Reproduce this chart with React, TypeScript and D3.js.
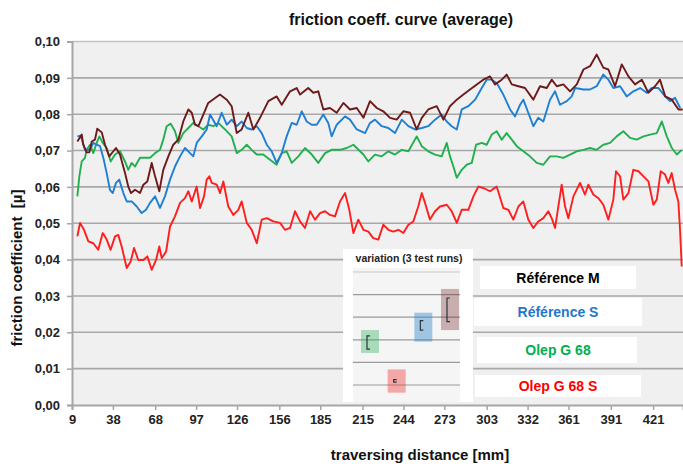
import { useRef, useEffect } from "react";
import * as d3 from "d3";

// tick labels on the category axis (mm)
const xTickLabels = [9, 38, 68, 97, 126, 156, 185, 215, 244, 273, 303, 332, 361, 391, 421];
const yTickValues = [0, 0.01, 0.02, 0.03, 0.04, 0.05, 0.06, 0.07, 0.08, 0.09, 0.1];

// [traversing distance mm, friction coefficient]
const referenceM: [number, number][] = [
  [12.8, 0.0725], [15.9, 0.0744], [17.0, 0.0716], [19.4, 0.0695], [21.3, 0.0695], [23.0, 0.0725],
  [25.3, 0.073], [26.9, 0.076], [30.1, 0.075], [32.4, 0.0716], [35.4, 0.0684], [38.3, 0.0698],
  [40.2, 0.0707], [43.0, 0.0689], [46.6, 0.0638], [48.9, 0.0601], [50.8, 0.0583], [53.7, 0.0592],
  [57.2, 0.0583], [59.6, 0.0606], [62.4, 0.0615], [65.5, 0.0666], [67.9, 0.0629], [70.9, 0.0588],
  [73.7, 0.0647], [77.3, 0.0684], [80.8, 0.0716], [84.4, 0.073], [87.9, 0.078], [91.5, 0.0813],
  [93.9, 0.0804], [96.2, 0.0771], [98.6, 0.0767], [102.1, 0.0799], [105.6, 0.0831], [113.9, 0.0854],
  [118.7, 0.084], [122.2, 0.0822], [125.8, 0.0748], [129.3, 0.0758], [134.0, 0.0804], [137.6, 0.0758],
  [142.3, 0.079], [148.2, 0.0836], [154.1, 0.0849], [157.7, 0.0826], [163.6, 0.0863], [168.3, 0.0872],
  [170.7, 0.0854], [176.5, 0.0872], [180.1, 0.0859], [183.6, 0.0863], [187.2, 0.0813], [191.9, 0.0817],
  [196.7, 0.0804], [201.4, 0.0831], [206.1, 0.0813], [210.9, 0.0817], [215.6, 0.079], [220.3, 0.0836],
  [225.1, 0.0817], [229.7, 0.0808], [234.5, 0.079], [239.2, 0.0785], [243.9, 0.0808], [248.7, 0.0804],
  [253.4, 0.0758], [257.0, 0.079], [261.6, 0.0813], [267.6, 0.0822], [272.3, 0.0785], [277.0, 0.0822],
  [281.8, 0.084], [286.5, 0.0854], [291.2, 0.0868], [296.0, 0.0882], [300.6, 0.0895], [305.4, 0.0904],
  [308.9, 0.0882], [313.7, 0.0895], [317.2, 0.0909], [320.8, 0.0882], [325.5, 0.0877], [330.2, 0.0872],
  [336.1, 0.084], [340.8, 0.0877], [345.6, 0.0872], [349.1, 0.0895], [352.7, 0.0877], [357.4, 0.0882],
  [362.1, 0.0863], [366.9, 0.0882], [371.6, 0.0923], [376.3, 0.0932], [381.0, 0.0964], [385.7, 0.0928],
  [389.3, 0.0923], [394.0, 0.0877], [398.8, 0.0937], [403.5, 0.0904], [408.2, 0.0882], [413.0, 0.0895],
  [417.6, 0.0859], [422.4, 0.0877], [425.9, 0.0895], [429.6, 0.0849], [434.2, 0.084], [439.0, 0.0813],
  [442.0, 0.0813],
];

const referenceS: [number, number][] = [
  [12.8, 0.0739], [15.2, 0.0741], [18.2, 0.0702], [21.8, 0.0702], [24.1, 0.0721], [26.5, 0.0716],
  [28.9, 0.0712], [31.2, 0.068], [33.6, 0.0638], [35.9, 0.0592], [37.9, 0.0583], [40.2, 0.0611],
  [42.5, 0.062], [45.4, 0.0583], [47.8, 0.056], [51.3, 0.056], [54.9, 0.0546], [58.4, 0.0528],
  [61.5, 0.0537], [64.3, 0.0556], [67.9, 0.0574], [71.4, 0.0542], [74.9, 0.0574], [78.5, 0.062],
  [82.0, 0.0656], [85.6, 0.0684], [89.1, 0.0707], [92.7, 0.0693], [95.0, 0.0684], [97.4, 0.0721],
  [101.0, 0.0739], [104.5, 0.0758], [106.9, 0.0799], [111.6, 0.0767], [115.1, 0.0804], [118.7, 0.0771],
  [122.2, 0.0785], [125.8, 0.0767], [129.3, 0.078], [132.9, 0.0762], [136.4, 0.0758], [140.0, 0.0767],
  [143.5, 0.0748], [147.1, 0.0716], [150.6, 0.0698], [154.1, 0.0666], [157.7, 0.0693], [161.2, 0.0739],
  [164.8, 0.0776], [168.3, 0.0771], [171.9, 0.0808], [175.4, 0.078], [179.0, 0.0771], [182.5, 0.0771],
  [187.2, 0.0799], [190.7, 0.0776], [193.1, 0.0739], [196.7, 0.0771], [202.6, 0.0794], [206.1, 0.0785],
  [210.9, 0.0758], [216.8, 0.0748], [220.3, 0.0776], [223.8, 0.0785], [228.6, 0.0767], [233.3, 0.0762],
  [238.0, 0.0748], [242.8, 0.0785], [247.5, 0.0767], [252.2, 0.0758], [257.0, 0.0762], [261.6, 0.0767],
  [266.4, 0.0785], [271.1, 0.0799], [274.7, 0.078], [278.2, 0.0767], [281.8, 0.0758], [285.3, 0.0813],
  [290.0, 0.0822], [294.8, 0.084], [299.5, 0.0872], [303.0, 0.0895], [306.6, 0.0895], [310.1, 0.0886],
  [314.8, 0.0854], [319.6, 0.0813], [323.1, 0.0794], [326.7, 0.0826], [329.0, 0.084], [332.5, 0.0804],
  [336.1, 0.0767], [339.6, 0.079], [343.2, 0.078], [347.9, 0.084], [351.5, 0.0863], [355.0, 0.0826],
  [359.8, 0.0836], [363.3, 0.0849], [365.7, 0.0872], [371.6, 0.0868], [376.3, 0.0868], [381.0, 0.0877],
  [385.7, 0.0909], [389.3, 0.0895], [392.8, 0.0872], [397.6, 0.0877], [402.3, 0.0849], [407.0, 0.0863],
  [411.8, 0.0872], [416.5, 0.0859], [420.0, 0.0872], [424.8, 0.0872], [429.5, 0.0849], [433.0, 0.0836],
  [436.6, 0.0845], [440.2, 0.0817],
];

const olepG68: [number, number][] = [
  [12.8, 0.0574], [14.2, 0.0629], [15.9, 0.067], [18.2, 0.068], [19.4, 0.0702], [21.8, 0.0716],
  [24.1, 0.0693], [26.5, 0.0721], [28.4, 0.0739], [30.8, 0.0721], [33.6, 0.0707], [36.4, 0.067],
  [39.5, 0.0689], [43.0, 0.0698], [46.6, 0.067], [48.9, 0.0647], [51.3, 0.0666], [53.7, 0.0656],
  [57.2, 0.068], [60.8, 0.068], [64.3, 0.068], [67.9, 0.0693], [71.4, 0.0702], [73.7, 0.073],
  [76.1, 0.0767], [79.0, 0.0774], [82.0, 0.0753], [84.4, 0.0721], [87.9, 0.0748], [91.5, 0.0762],
  [95.0, 0.0776], [98.6, 0.0767], [102.1, 0.0758], [105.6, 0.0771], [109.2, 0.0767], [112.7, 0.0776],
  [117.5, 0.0758], [122.2, 0.0739], [125.8, 0.0693], [129.3, 0.0702], [132.9, 0.0716], [136.4, 0.0702],
  [140.0, 0.0689], [144.6, 0.0689], [149.4, 0.0675], [154.1, 0.0661], [157.7, 0.0693], [161.2, 0.0698],
  [164.8, 0.0666], [169.5, 0.0684], [174.2, 0.0707], [179.0, 0.0689], [183.6, 0.0666], [188.4, 0.0693],
  [193.1, 0.0702], [199.0, 0.0702], [203.8, 0.0707], [208.5, 0.0716], [213.2, 0.0698], [215.6, 0.0689],
  [219.1, 0.067], [223.8, 0.0689], [228.6, 0.0684], [233.3, 0.0698], [238.0, 0.0689], [242.8, 0.0702],
  [247.5, 0.0698], [253.4, 0.0739], [257.0, 0.0712], [261.6, 0.0698], [266.4, 0.0689], [271.1, 0.0684],
  [274.7, 0.0721], [277.0, 0.0684], [279.4, 0.0656], [281.8, 0.0625], [285.3, 0.0647], [288.9, 0.0661],
  [292.4, 0.0666], [295.5, 0.0716], [299.5, 0.0721], [303.0, 0.0716], [306.6, 0.0744], [310.1, 0.0753],
  [313.7, 0.073], [317.2, 0.0748], [320.8, 0.073], [324.3, 0.0712], [329.0, 0.0698], [333.7, 0.0684],
  [338.5, 0.0666], [343.2, 0.0661], [347.9, 0.0684], [352.7, 0.0684], [357.4, 0.068], [362.1, 0.0689],
  [366.9, 0.0698], [371.6, 0.0702], [376.3, 0.0707], [381.0, 0.0702], [385.7, 0.0716], [390.5, 0.0721],
  [395.2, 0.0739], [399.9, 0.0753], [404.7, 0.0735], [409.4, 0.073], [414.2, 0.0739], [418.9, 0.0744],
  [423.6, 0.0748], [427.2, 0.078], [430.7, 0.0739], [434.3, 0.0707], [437.8, 0.0689], [441.4, 0.0702],
];

const olepG68S: [number, number][] = [
  [12.8, 0.0464], [14.7, 0.0501], [17.5, 0.0482], [20.6, 0.045], [24.1, 0.0445], [27.6, 0.0427],
  [30.8, 0.0473], [33.6, 0.0455], [36.4, 0.0427], [39.5, 0.0464], [41.8, 0.0468], [44.2, 0.0436],
  [47.8, 0.0377], [50.6, 0.0395], [53.0, 0.0432], [56.0, 0.0399], [59.6, 0.0399], [62.4, 0.0409],
  [65.5, 0.0372], [68.6, 0.0399], [70.9, 0.0436], [72.6, 0.0404], [75.7, 0.0422], [78.5, 0.0491],
  [82.0, 0.0519], [85.6, 0.0556], [89.1, 0.0569], [91.5, 0.0588], [93.9, 0.056], [97.4, 0.0601],
  [99.8, 0.0542], [102.6, 0.0574], [104.5, 0.062], [106.4, 0.0629], [108.1, 0.0611], [111.6, 0.0606],
  [114.0, 0.0583], [116.3, 0.0615], [119.8, 0.0546], [123.4, 0.0523], [126.9, 0.0537], [129.3, 0.056],
  [132.9, 0.0501], [136.4, 0.0482], [140.0, 0.0445], [143.5, 0.051], [147.1, 0.0514], [151.7, 0.0505],
  [156.5, 0.0501], [160.0, 0.0482], [163.6, 0.0487], [167.1, 0.0533], [170.7, 0.0505], [174.2, 0.0487],
  [177.8, 0.0533], [181.3, 0.051], [184.9, 0.0528], [188.4, 0.0533], [191.9, 0.0523], [195.5, 0.0519],
  [199.0, 0.056], [202.6, 0.0583], [205.6, 0.0537], [208.5, 0.0473], [212.0, 0.051], [215.6, 0.0482],
  [219.1, 0.0477], [222.6, 0.0459], [226.2, 0.0455], [229.7, 0.0496], [233.3, 0.0482], [236.8, 0.0477],
  [240.4, 0.0482], [243.9, 0.0473], [247.5, 0.0496], [251.0, 0.0505], [254.5, 0.0546], [257.0, 0.0583],
  [259.3, 0.0556], [262.8, 0.051], [266.4, 0.0533], [269.9, 0.0546], [274.7, 0.0551], [278.2, 0.0533],
  [281.8, 0.0501], [285.3, 0.0537], [290.0, 0.0537], [293.6, 0.0574], [297.1, 0.0601], [300.6, 0.0597],
  [305.4, 0.0588], [310.1, 0.0601], [314.8, 0.0542], [318.4, 0.0537], [321.9, 0.051], [325.5, 0.0546],
  [329.0, 0.056], [332.5, 0.051], [336.1, 0.0487], [339.6, 0.0505], [343.2, 0.0514], [346.7, 0.0533],
  [349.1, 0.0514], [351.5, 0.0487], [353.8, 0.0546], [356.2, 0.0606], [358.6, 0.0546], [360.9, 0.0514],
  [364.5, 0.0574], [369.2, 0.0611], [372.7, 0.0579], [375.1, 0.0606], [378.6, 0.0579], [382.2, 0.0569],
  [385.7, 0.0551], [389.3, 0.051], [392.8, 0.0565], [394.7, 0.0643], [397.6, 0.0629], [399.9, 0.0565],
  [403.5, 0.0583], [407.0, 0.0647], [410.6, 0.0643], [414.2, 0.0629], [417.7, 0.0615], [421.2, 0.0551],
  [423.6, 0.0565], [426.4, 0.0643], [429.5, 0.0634], [431.8, 0.0611], [434.2, 0.0638], [436.6, 0.0592],
  [438.9, 0.056], [440.1, 0.0482], [441.3, 0.0381],
];

const seriesData = [olepG68S, olepG68, referenceS, referenceM];
const seriesColors = ["#ff1e1e", "#21b04e", "#1f7fd2", "#6e1a1a"];

// inset: variation of the 3 test runs
const insetNames = ["Olep G 68", "Olep G 68 S", "Référence S", "Référence M"];
const insetBoxLow = [0.0642, 0.0466, 0.0692, 0.0743];
const insetBoxHigh = [0.0743, 0.0569, 0.082, 0.0925];
const insetErrLow = [0.0659, 0.0513, 0.0743, 0.078];
const insetErrHigh = [0.0717, 0.0524, 0.0785, 0.0885];
const insetGrid = [0.05, 0.06, 0.07, 0.08, 0.09, 0.1];
const insetBoxColors = ["rgba(40,175,90,0.38)", "rgba(240,60,60,0.42)", "rgba(40,130,200,0.42)", "rgba(110,30,30,0.33)"];

const legendLabels = ["Référence M", "Référence S", "Olep G 68", "Olep G 68 S"];
const legendColors = ["#000000", "#1f78c8", "#00b050", "#ff0000"];

export default function App() {
  const ref = useRef<SVGSVGElement>(null);
  const width = 683;
  const height = 464;
  const marginTop = 41.5;
  const marginLeft = 72;
  const plotBottom = 405;
  const plotRight = 683;

  useEffect(() => {
    const svg = d3.select(ref.current);
    svg.selectAll("*").remove();
    const font = "'Liberation Sans', Arial, sans-serif";

    const xScale = d3.scaleLinear().domain([9, 442.2]).range([marginLeft, plotRight]);
    const yScale = d3.scaleLinear().domain([0, 0.1]).range([plotBottom, marginTop]);

    svg.append("rect").attr("width", width).attr("height", height).attr("fill", "#fff");

    svg.append("text")
      .attr("x", 401).attr("y", 25)
      .attr("text-anchor", "middle")
      .attr("font-family", font).attr("font-weight", "bold").attr("font-size", 16)
      .attr("fill", "#111")
      .text("friction coeff. curve (average)");

    svg.append("rect")
      .attr("x", marginLeft).attr("y", marginTop)
      .attr("width", plotRight - marginLeft).attr("height", plotBottom - marginTop)
      .attr("fill", "#f0f0f0");

    // gridlines
    svg.append("g").selectAll("line")
      .data(yTickValues.slice(1))
      .join("line")
      .attr("x1", marginLeft).attr("x2", plotRight)
      .attr("y1", (d) => yScale(d)).attr("y2", (d) => yScale(d))
      .attr("stroke", (d) => (d === 0.1 ? "#c4c4c4" : "#a8a8a8"))
      .attr("stroke-width", 1.6);

    const yAxis = d3.axisLeft(yScale)
      .tickValues(yTickValues)
      .tickSize(5)
      .tickFormat((d) => d3.format(".2f")(d as number).replace(".", ","));
    const yg = svg.append("g").attr("transform", `translate(${marginLeft},0)`).call(yAxis);
    yg.select(".domain").attr("stroke", "#a6a6a6").attr("stroke-width", 2);
    yg.selectAll(".tick line").attr("stroke", "#a6a6a6").attr("stroke-width", 1.5);
    yg.selectAll(".tick text")
      .attr("font-family", font).attr("font-weight", "bold").attr("font-size", 13)
      .attr("fill", "#222").attr("x", -12);

    const xAxis = d3.axisBottom(xScale).tickValues(xTickLabels).tickSize(5).tickFormat((d) => String(d));
    const xg = svg.append("g").attr("transform", `translate(0,${plotBottom})`).call(xAxis);
    xg.select(".domain").attr("stroke", "#a6a6a6").attr("stroke-width", 2);
    xg.selectAll(".tick line").attr("stroke", "#a6a6a6").attr("stroke-width", 1.5);
    xg.selectAll(".tick text")
      .attr("font-family", font).attr("font-weight", "bold").attr("font-size", 13)
      .attr("fill", "#222").attr("y", 10);

    // series
    const line = d3.line<[number, number]>()
      .x((d) => xScale(d[0]))
      .y((d) => yScale(d[1]));
    svg.append("defs").append("clipPath").attr("id", "plotclip")
      .append("rect").attr("x", marginLeft).attr("y", marginTop - 5)
      .attr("width", plotRight - marginLeft).attr("height", plotBottom - marginTop + 5);
    svg.append("g").attr("clip-path", "url(#plotclip)")
      .selectAll("path")
      .data(seriesData)
      .join("path")
      .attr("d", (d) => line(d))
      .attr("fill", "none")
      .attr("stroke", (_, i) => seriesColors[i])
      .attr("stroke-width", 1.9)
      .attr("stroke-linejoin", "round");

    // axis titles
    svg.append("text")
      .attr("x", 420).attr("y", 460)
      .attr("text-anchor", "middle")
      .attr("font-family", font).attr("font-weight", "bold").attr("font-size", 15)
      .attr("fill", "#111")
      .text("traversing distance [mm]");
    svg.append("text")
      .attr("transform", "translate(22,268) rotate(-90)")
      .attr("text-anchor", "middle")
      .attr("font-family", font).attr("font-weight", "bold").attr("font-size", 15)
      .attr("fill", "#111")
      .attr("xml:space", "preserve")
      .text("friction coefficient  [µ]");

    // inset chart
    const inset = svg.append("g");
    inset.append("rect").attr("x", 343).attr("y", 249).attr("width", 130).attr("height", 153).attr("fill", "#fff");
    inset.append("text")
      .attr("x", 409).attr("y", 262)
      .attr("text-anchor", "middle")
      .attr("font-family", font).attr("font-weight", "bold").attr("font-size", 10.5)
      .attr("fill", "#222")
      .text("variation (3 test runs)");
    inset.append("rect").attr("x", 353).attr("y", 268).attr("width", 107).attr("height", 134).attr("fill", "#f5f5f5");
    const iy = d3.scaleLinear().domain([0.05, 0.1]).range([385, 272]);
    const ix = d3.scalePoint<string>().domain(insetNames).range([370, 450]);
    inset.selectAll(".igrid")
      .data(insetGrid)
      .join("line")
      .attr("class", "igrid")
      .attr("x1", 353).attr("x2", 460)
      .attr("y1", (d) => iy(d)).attr("y2", (d) => iy(d))
      .attr("stroke", (d) => (d === 0.1 ? "#c8c8c8" : "#9a9a9a"))
      .attr("stroke-width", 1.2);
    inset.selectAll(".ibox")
      .data(insetNames)
      .join("rect")
      .attr("class", "ibox")
      .attr("x", (d) => (ix(d) as number) - 9)
      .attr("width", 18)
      .attr("y", (_, i) => iy(insetBoxHigh[i]))
      .attr("height", (_, i) => iy(insetBoxLow[i]) - iy(insetBoxHigh[i]))
      .attr("fill", (_, i) => insetBoxColors[i]);
    const err = inset.selectAll(".ierr").data(insetNames).join("path").attr("class", "ierr");
    err.attr("d", (d, i) => {
      const cx = (ix(d) as number) - 3;
      const y1 = iy(insetErrHigh[i]);
      const y2 = iy(insetErrLow[i]);
      return `M${cx + 3},${y1}H${cx}V${y2}H${cx + 3}`;
    })
      .attr("fill", "none")
      .attr("stroke", "#2c3440")
      .attr("stroke-width", 1.2);

    // legend boxes
    const boxes = [
      { x: 480, y: 266, w: 156, h: 23 },
      { x: 474, y: 298, w: 168, h: 28 },
      { x: 477, y: 337, w: 160, h: 26 },
      { x: 475, y: 375, w: 166, h: 22 },
    ];
    const lg = svg.append("g").selectAll("g").data(legendLabels).join("g");
    lg.append("rect")
      .attr("x", (_, i) => boxes[i].x).attr("y", (_, i) => boxes[i].y)
      .attr("width", (_, i) => boxes[i].w).attr("height", (_, i) => boxes[i].h)
      .attr("fill", "#fff");
    lg.append("text")
      .attr("x", 558)
      .attr("y", (_, i) => boxes[i].y + boxes[i].h / 2 + 5)
      .attr("text-anchor", "middle")
      .attr("font-family", font).attr("font-weight", "bold").attr("font-size", 14)
      .attr("fill", (_, i) => legendColors[i])
      .text((d) => d);
  }, []);

  return (
    <svg
      ref={ref}
      width={width}
      height={height}
      style={{ position: "absolute", left: 0, top: 0, display: "block" }}
    />
  );
}
